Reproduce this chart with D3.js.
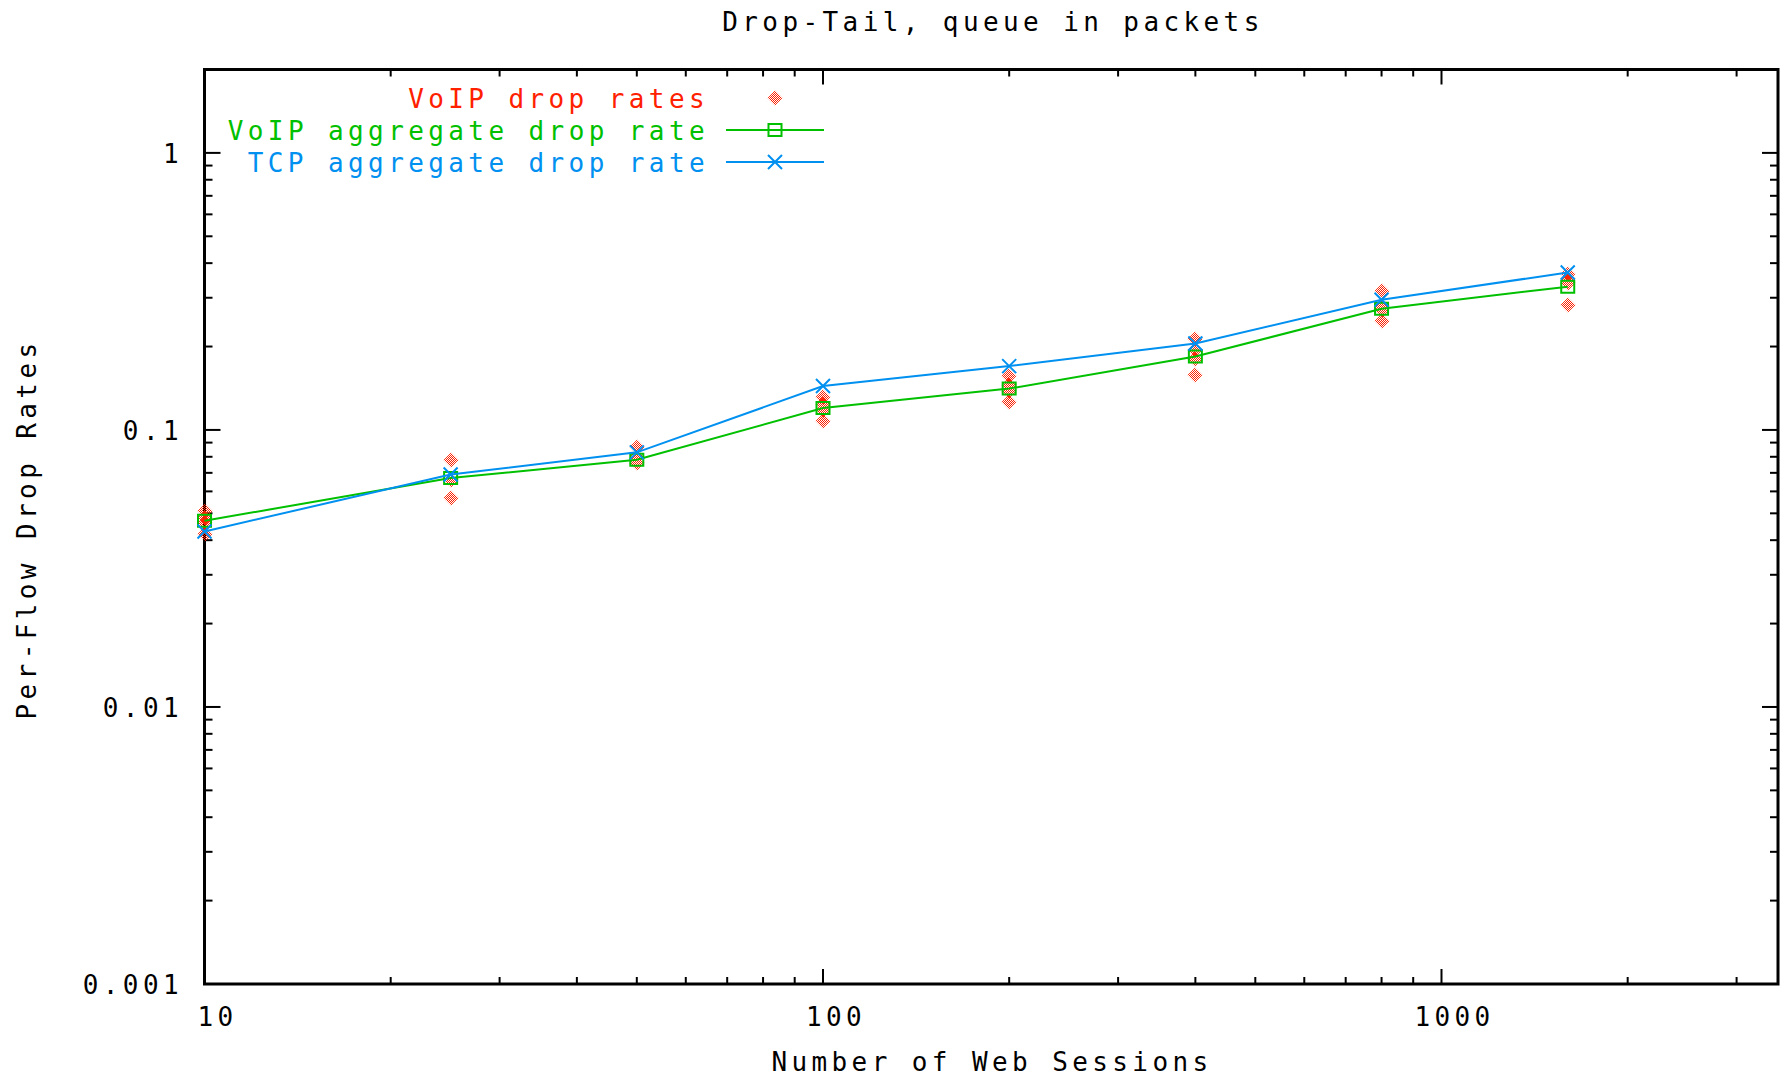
<!DOCTYPE html>
<html lang="en">
<head>
  <meta charset="UTF-8">
  <title>Drop-Tail, queue in packets</title>
  <style>
    body, html {
      margin: 0;
      padding: 0;
      background: #fff;
    }
    svg text {
      font-family: "DejaVu Sans Mono", monospace;
      font-size: 26px;
      letter-spacing: 4.4px;
    }
  </style>
</head>
<body>
  <svg id="svg" width="1784" height="1078"></svg>
  <script src="https://d3js.org/d3.v7.min.js"></script>
  <script>
    // number of web sessions (x)
    const sessions = [10, 25, 50, 100, 200, 400, 800, 1600]
    // aggregate drop rates
    const voipAggregate = [0.047, 0.067, 0.078, 0.120, 0.141, 0.184, 0.274, 0.329]
    const tcpAggregate = [0.043, 0.069, 0.083, 0.144, 0.170, 0.205, 0.295, 0.370]
    // per-flow VoIP drop rates, one list per session count
    const voipFlowRates = [
      [0.051, 0.048, 0.046, 0.042],
      [0.078, 0.066, 0.057],
      [0.087, 0.080, 0.076],
      [0.131, 0.124, 0.118, 0.108],
      [0.156, 0.145, 0.138, 0.126],
      [0.213, 0.195, 0.180, 0.158],
      [0.316, 0.280, 0.270, 0.248],
      [0.364, 0.350, 0.340, 0.283]
    ]
    const xTickLabels = [10, 100, 1000]
    const yTickLabels = [0.001, 0.01, 0.1, 1]
    const yTickText = ['0.001', '0.01', '0.1', '1']

    const red = '#ff2000'
    const green = '#00c000'
    const blue = '#0090f0'

    const plotLeft = 204.5, plotRight = 1778, plotTop = 69.5, plotBottom = 984

    const svg = d3.select('#svg')

    // checkered fill for the diamond points
    const pat = svg.append('defs').append('pattern')
      .attr('id', 'checker')
      .attr('patternUnits', 'userSpaceOnUse')
      .attr('width', 2).attr('height', 2)
    pat.append('rect').attr('x', 0).attr('y', 0).attr('width', 1).attr('height', 1).attr('fill', red)
    pat.append('rect').attr('x', 1).attr('y', 1).attr('width', 1).attr('height', 1).attr('fill', red)

    const x = d3.scaleLog().domain([10, 3500]).range([plotLeft, plotRight])
    const y = d3.scaleLog().domain([0.001, 2]).range([plotBottom, plotTop])

    // ticks, on all four sides, pointing inward
    const ticks = svg.append('g').attr('stroke', 'black').attr('stroke-width', 2)
    x.ticks().forEach(v => {
      const len = xTickLabels.includes(v) ? 15 : 7
      ticks.append('line').attr('x1', x(v)).attr('x2', x(v)).attr('y1', plotBottom).attr('y2', plotBottom - len)
      ticks.append('line').attr('x1', x(v)).attr('x2', x(v)).attr('y1', plotTop).attr('y2', plotTop + len)
    })
    y.ticks().forEach(v => {
      const len = yTickLabels.includes(v) ? 16 : 8
      ticks.append('line').attr('y1', y(v)).attr('y2', y(v)).attr('x1', plotLeft).attr('x2', plotLeft + len)
      ticks.append('line').attr('y1', y(v)).attr('y2', y(v)).attr('x1', plotRight).attr('x2', plotRight - len)
    })

    // frame
    svg.append('rect')
      .attr('x', plotLeft).attr('y', plotTop)
      .attr('width', plotRight - plotLeft).attr('height', plotBottom - plotTop)
      .attr('fill', 'none').attr('stroke', 'black').attr('stroke-width', 3)

    // tick labels
    svg.append('g').selectAll('text')
      .data(xTickLabels)
      .join('text')
      .attr('x', d => x(d) + 13)
      .attr('y', 1026)
      .attr('text-anchor', 'middle')
      .text(d => d)

    svg.append('g').selectAll('text')
      .data(yTickLabels)
      .join('text')
      .attr('x', 183)
      .attr('y', d => y(d) + 10)
      .attr('text-anchor', 'end')
      .text((d, i) => yTickText[i])

    // titles
    svg.append('text').attr('x', 993).attr('y', 31).attr('text-anchor', 'middle')
      .text('Drop-Tail, queue in packets')
    svg.append('text').attr('x', 992).attr('y', 1071).attr('text-anchor', 'middle')
      .text('Number of Web Sessions')
    svg.append('text').attr('text-anchor', 'middle')
      .attr('transform', 'translate(36, 529) rotate(-90)')
      .text('Per-Flow Drop Rates')

    // point shapes
    const diamond = 'M0,-7.5L7.5,0L0,7.5L-7.5,0Z'
    const square = 'M-6.5,-6L6.5,-6L6.5,6L-6.5,6Z'
    const cross = 'M-7,-7L7,7M7,-7L-7,7'

    // VoIP per-flow points
    const flowPoints = []
    voipFlowRates.forEach((list, i) => list.forEach(v => flowPoints.push([sessions[i], v])))
    svg.append('g').selectAll('path')
      .data(flowPoints)
      .join('path')
      .attr('transform', d => `translate(${Math.round(x(d[0]))}, ${Math.round(y(d[1]))})`)
      .attr('d', diamond)
      .attr('fill', 'url(#checker)')

    const line = d3.line().x(d => x(d[0])).y(d => y(d[1]))

    function drawSeries(values, color, shape) {
      const pts = sessions.map((s, i) => [s, values[i]])
      svg.append('path').datum(pts)
        .attr('d', line)
        .attr('fill', 'none').attr('stroke', color).attr('stroke-width', 2)
      svg.append('g').selectAll('path')
        .data(pts)
        .join('path')
        .attr('transform', d => `translate(${x(d[0])}, ${y(d[1])})`)
        .attr('d', shape)
        .attr('fill', 'none').attr('stroke', color).attr('stroke-width', 2)
    }
    drawSeries(voipAggregate, green, square)
    drawSeries(tcpAggregate, blue, cross)

    // legend
    const legend = [
      { label: 'VoIP drop rates', color: red, shape: diamond, line: false },
      { label: 'VoIP aggregate drop rate', color: green, shape: square, line: true },
      { label: 'TCP aggregate drop rate', color: blue, shape: cross, line: true }
    ]
    const rows = svg.append('g').selectAll('g')
      .data(legend)
      .join('g')
      .attr('transform', (d, i) => `translate(0, ${98 + i * 32})`)
    rows.append('text')
      .attr('x', 709).attr('y', 10)
      .attr('text-anchor', 'end')
      .attr('fill', d => d.color)
      .text(d => d.label)
    rows.filter(d => d.line).append('line')
      .attr('x1', 726).attr('x2', 824)
      .attr('stroke', d => d.color).attr('stroke-width', 2)
    rows.append('path')
      .attr('transform', 'translate(775, 0)')
      .attr('d', d => d.shape)
      .attr('fill', d => d.line ? 'none' : 'url(#checker)')
      .attr('stroke', d => d.line ? d.color : 'none')
      .attr('stroke-width', 2)
  </script>
</body>
</html>
